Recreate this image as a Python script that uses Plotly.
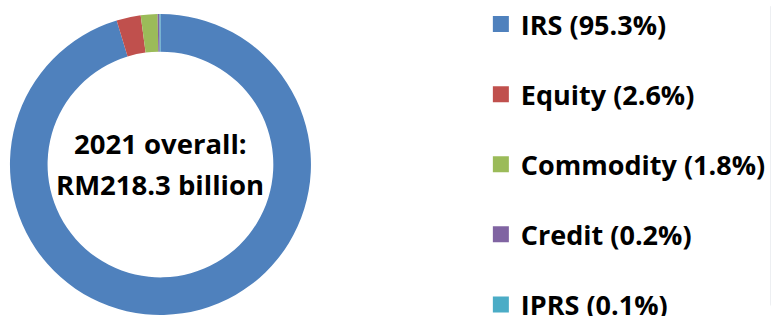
import plotly.graph_objects as go

categories = ["IRS", "Equity", "Commodity", "Credit", "IPRS"]
shares = [95.3, 2.6, 1.8, 0.2, 0.1]
colors = ["#4F81BD", "#C0504D", "#9BBB59", "#8064A2", "#4BACC6"]
center_lines = ["2021 overall:", "RM218.3 billion"]

W, H = 771, 316
FONT = "Open Sans"

fig = go.Figure()
fig.add_trace(go.Pie(
    labels=categories, values=shares, marker=dict(colors=colors, line=dict(width=0)),
    hole=0.75, sort=False, direction="clockwise", rotation=0,
    textinfo="none", showlegend=False,
    domain=dict(x=[10 / W, 313 / W], y=[1 / H, 302 / H]),
))

for i, (c, v, col) in enumerate(zip(categories, shares, colors)):
    fig.add_trace(go.Scatter(
        x=[None], y=[None], mode="markers", name=f"{c} ({v}%)",
        marker=dict(symbol="square", size=16, color=col),
        legendgroup=f"g{i}", showlegend=True, hoverinfo="skip",
    ))

cx = (10 + 313) / 2 / W
cy = 1 - 164.5 / H
fig.add_annotation(x=cx, y=cy, xref="paper", yref="paper", text=f"<b>{center_lines[0]}</b>",
                   xanchor="center", yanchor="middle",
                   showarrow=False, yshift=21, font=dict(family=FONT, size=27.5, color="black"))
fig.add_annotation(x=cx, y=cy, xref="paper", yref="paper", text=f"<b>{center_lines[1]}</b>",
                   xanchor="center", yanchor="middle",
                   showarrow=False, yshift=-20, font=dict(family=FONT, size=27.5, color="black"))

fig.update_layout(
    width=W, height=H, margin=dict(l=0, r=0, t=0, b=0, pad=0), autosize=False,
    paper_bgcolor="white", plot_bgcolor="white",
    xaxis=dict(visible=False), yaxis=dict(visible=False),
    legend=dict(x=484 / W, xanchor="left", y=1 - 6 / H, yanchor="top", traceorder="grouped",
                tracegroupgap=32, font=dict(family=FONT, size=27, color="black", weight="bold"),
                bgcolor="rgba(0,0,0,0)"),
)
fig.write_html("out.html", config={"displayModeBar": False},
               post_script="document.body.style.margin='0px';")
